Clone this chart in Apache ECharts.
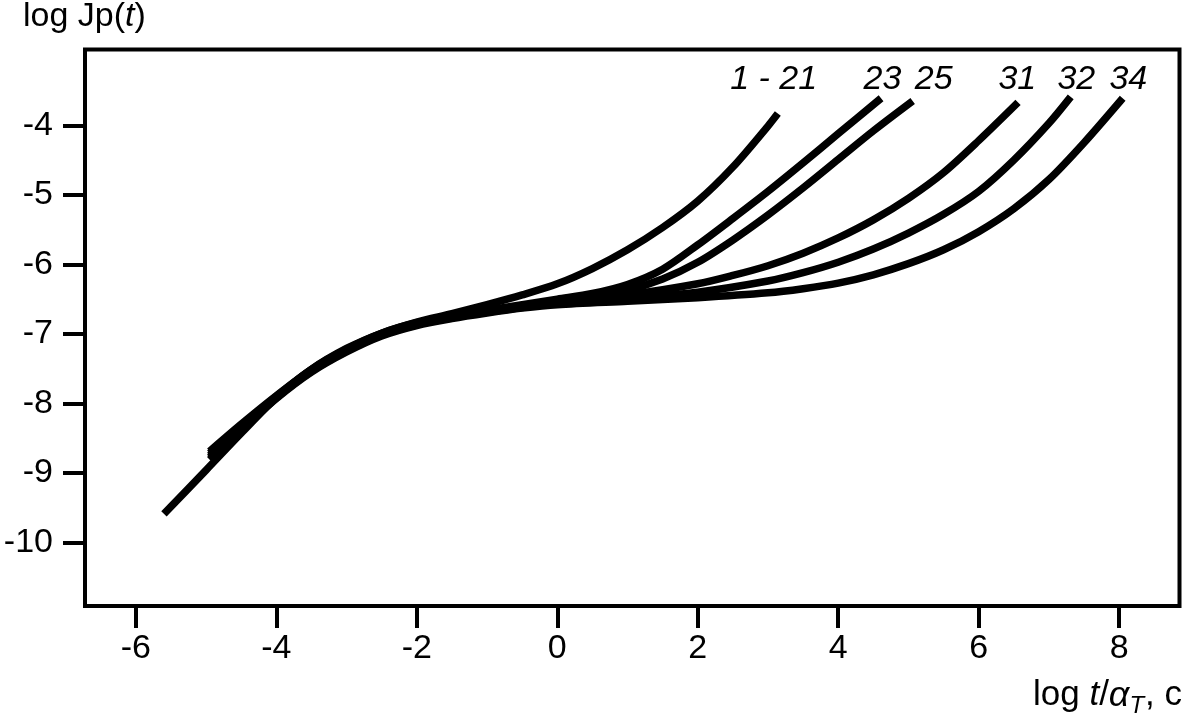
<!DOCTYPE html>
<html>
<head>
<meta charset="utf-8">
<script src="https://cdn.jsdelivr.net/npm/echarts@6/dist/echarts.min.js"></script>
<style>
html,body{margin:0;padding:0;background:#fff;}
#c{width:1185px;height:717px;}
</style>
</head>
<body>
<div id="c"></div>
<script>
// ---- data ----
var xTicks = [-6, -4, -2, 0, 2, 4, 6, 8];
var yTicks = [-10, -9, -8, -7, -6, -5, -4];

var seriesNames = ['1 - 21', '23', '25', '31', '32', '34'];

var x_1_21 = [-5.6, -5.0, -4.5, -4.0, -3.5, -3.0, -2.5, -2.0, -1.5, -1.0, -0.5, 0.0, 0.5, 1.0, 1.5, 2.0, 2.5, 3.0, 3.14];
var y_1_21 = [-9.59, -8.96, -8.43, -7.92, -7.51, -7.21, -6.99, -6.83, -6.71, -6.58, -6.44, -6.28, -6.06, -5.79, -5.47, -5.09, -4.60, -4.01, -3.83];

var x_23 = [-4.95, -4.5, -4.0, -3.5, -3.0, -2.5, -2.0, -1.5, -1.0, -0.5, 0.0, 0.5, 1.0, 1.5, 2.0, 2.5, 3.0, 3.5, 4.0, 4.61];
var y_23 = [-8.69, -8.30, -7.89, -7.51, -7.22, -6.99, -6.84, -6.74, -6.66, -6.58, -6.50, -6.42, -6.29, -6.07, -5.72, -5.34, -4.95, -4.54, -4.12, -3.61];

var x_25 = [-4.95, -4.5, -4.0, -3.5, -3.0, -2.5, -2.0, -1.5, -1.0, -0.5, 0.0, 0.5, 1.0, 1.5, 2.0, 2.5, 3.0, 3.5, 4.0, 4.5, 5.06];
var y_25 = [-8.72, -8.32, -7.90, -7.52, -7.23, -7.00, -6.85, -6.75, -6.67, -6.60, -6.52, -6.46, -6.37, -6.21, -5.97, -5.65, -5.29, -4.90, -4.49, -4.08, -3.65];

var x_31 = [-4.95, -4.5, -4.0, -3.5, -3.0, -2.5, -2.0, -1.5, -1.0, -0.5, 0.0, 1.0, 2.0, 2.5, 3.0, 3.5, 4.0, 4.5, 5.0, 5.5, 6.0, 6.56];
var y_31 = [-8.75, -8.34, -7.91, -7.53, -7.24, -7.01, -6.86, -6.76, -6.68, -6.61, -6.54, -6.44, -6.28, -6.16, -6.02, -5.84, -5.62, -5.36, -5.05, -4.68, -4.22, -3.67];

var x_32 = [-4.95, -4.5, -4.0, -3.5, -3.0, -2.5, -2.0, -1.5, -1.0, -0.5, 0.0, 1.0, 2.0, 3.0, 3.5, 4.0, 4.5, 5.0, 5.5, 6.0, 6.5, 7.0, 7.31];
var y_32 = [-8.78, -8.36, -7.92, -7.54, -7.25, -7.02, -6.87, -6.77, -6.69, -6.62, -6.56, -6.49, -6.40, -6.24, -6.12, -5.97, -5.78, -5.55, -5.28, -4.95, -4.50, -3.97, -3.59];

var x_34 = [-4.95, -4.5, -4.0, -3.5, -3.0, -2.5, -2.0, -1.5, -1.0, -0.5, 0.0, 1.0, 2.0, 3.0, 3.5, 4.0, 4.5, 5.0, 5.5, 6.0, 6.5, 7.0, 7.5, 8.05];
var y_34 = [-8.81, -8.38, -7.93, -7.55, -7.26, -7.03, -6.88, -6.78, -6.70, -6.63, -6.58, -6.53, -6.48, -6.41, -6.35, -6.27, -6.15, -5.99, -5.79, -5.53, -5.20, -4.78, -4.25, -3.61];

var labelX = [3.08, 4.63, 5.36, 6.55, 7.39, 8.13];
var labelY = [-3.34, -3.34, -3.34, -3.34, -3.34, -3.34];

// ---- build ----
function pairs(xs, ys) { return xs.map(function (x, i) { return [x, ys[i]]; }); }
var allX = [x_1_21, x_23, x_25, x_31, x_32, x_34];
var allY = [y_1_21, y_23, y_25, y_31, y_32, y_34];

var FONT = '"Liberation Sans", Arial, Helvetica, sans-serif';

var series = allX.map(function (xs, i) {
  return {
    type: 'line',
    name: seriesNames[i],
    data: pairs(xs, allY[i]),
    smooth: 0.3,
    showSymbol: false,
    symbol: 'none',
    lineStyle: { color: '#000', width: 7.5, cap: 'butt', join: 'round' },
    z: 3,
    silent: true
  };
});

series.push({
  type: 'scatter',
  data: labelX.map(function (x, i) { return [x, labelY[i], seriesNames[i]]; }),
  symbolSize: 0,
  silent: true,
  itemStyle: { opacity: 1 },
  label: {
    show: true,
    position: 'inside',
    formatter: function (p) { return p.data[2]; },
    color: '#000',
    opacity: 1,
    fontSize: 34,
    fontStyle: 'italic',
    fontFamily: FONT
  }
});

var chart = echarts.init(document.getElementById('c'), null, { renderer: 'canvas' });
chart.setOption({
  backgroundColor: '#fff',
  animation: false,
  grid: {
    left: 85, right: 5.5, top: 49.5, bottom: 111,
    show: true, borderColor: '#000', borderWidth: 4, backgroundColor: 'transparent'
  },
  xAxis: {
    type: 'value',
    min: -6.724, max: 8.859,
    axisLine: { show: false, onZero: false },
    splitLine: { show: false },
    axisTick: { show: true, customValues: xTicks, length: 22, inside: false, lineStyle: { color: '#000', width: 4 } },
    axisLabel: { customValues: xTicks, margin: 26, color: '#000', fontSize: 34, fontFamily: FONT }
  },
  yAxis: {
    type: 'value',
    min: -10.916, max: -2.9085,
    axisLine: { show: false, onZero: false },
    splitLine: { show: false },
    axisTick: { show: true, customValues: yTicks, length: 22, inside: false, lineStyle: { color: '#000', width: 4 } },
    axisLabel: { customValues: yTicks, margin: 32, color: '#000', fontSize: 34, fontFamily: FONT }
  },
  graphic: [
    {
      type: 'text', left: 23, top: 0,
      style: {
        text: '{a|log Jp(}{i|t}{a|)}',
        rich: {
          a: { fontSize: 34, fontFamily: FONT, fill: '#000' },
          i: { fontSize: 34, fontFamily: FONT, fontStyle: 'italic', fill: '#000' }
        }
      }
    },
    {
      type: 'text', right: 3, top: 672,
      style: {
        text: '{a|log }{i|t}{a|/}{g|\u03b1}{s|T}{a|, c}',
        rich: {
          a: { fontSize: 35, fontFamily: FONT, fill: '#000', verticalAlign: 'top', lineHeight: 40 },
          i: { fontSize: 35, fontFamily: FONT, fontStyle: 'italic', fill: '#000', verticalAlign: 'top', lineHeight: 40 },
          g: { fontSize: 36, fontFamily: FONT, fontStyle: 'italic', fill: '#000', verticalAlign: 'top', lineHeight: 40 },
          s: { fontSize: 24, fontFamily: FONT, fontStyle: 'italic', fill: '#000', verticalAlign: 'bottom', lineHeight: 24, padding: [22, 1, 0, 0] }
        }
      }
    }
  ],
  series: series
});
</script>
</body>
</html>
